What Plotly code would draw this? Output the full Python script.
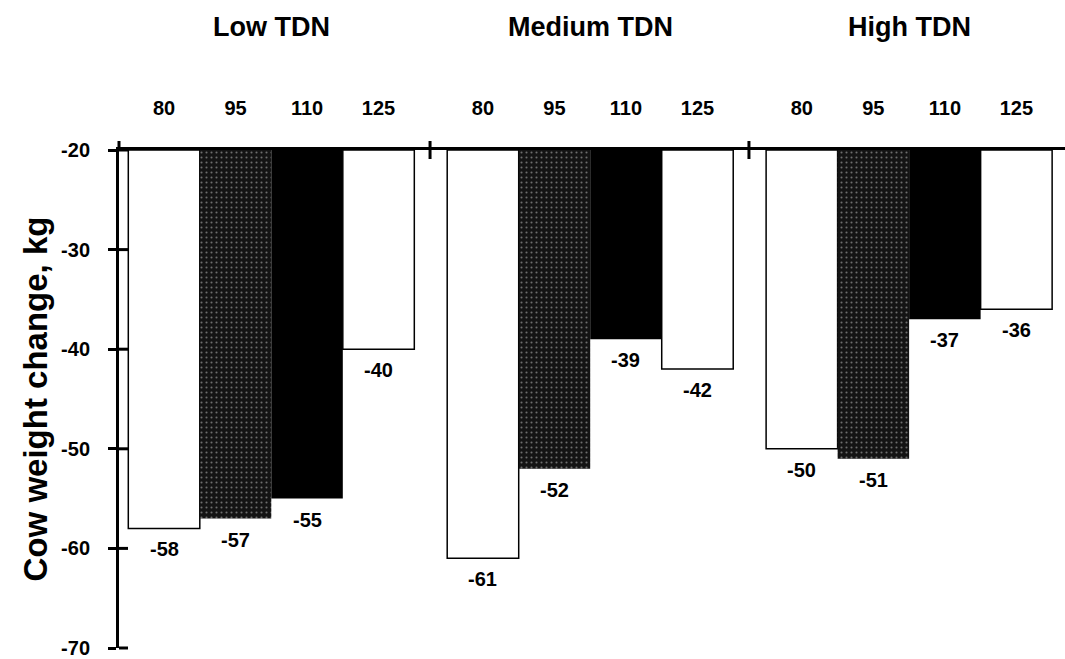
import plotly.graph_objects as go

# Cow weight change by TDN level (groups) and supplement level (bars)
groups = ["Low TDN", "Medium TDN", "High TDN"]
levels = ["80", "95", "110", "125"]
weight_change = {
    "80": [-58, -61, -50],
    "95": [-57, -52, -51],
    "110": [-55, -39, -37],
    "125": [-40, -42, -36],
}
y_ticks = [-20, -30, -40, -50, -60, -70]

baseline = -20
group_step = 4.46
first_center = 0.63
x_max = 13.23

W, H = 1065, 659
L, R, T, B = 119, 0, 150, 11
plot_w, plot_h = W - L - R, H - T - B

FONT = "Liberation Sans"
ink = "black"

styles = {
    "80": dict(color="white", line=dict(color=ink, width=1.5)),
    "95": dict(color="#151515", line=dict(color="#151515", width=0),
               pattern=dict(shape=".", fgcolor="#c8c8c8", bgcolor="#141414",
                            size=5, solidity=0.14)),
    "110": dict(color=ink, line=dict(color=ink, width=0)),
    "125": dict(color="white", line=dict(color=ink, width=1.5)),
}

def center(g, j):
    return first_center + group_step * g + j

fig = go.Figure()
tick_x, tick_text = [], []
annotations = []
for j, lv in enumerate(levels):
    xs = [center(g, j) for g in range(len(groups))]
    vals = weight_change[lv]
    tick_x += xs
    tick_text += [lv] * len(xs)
    fig.add_trace(go.Bar(
        x=xs,
        y=[v - baseline for v in vals],
        base=baseline,
        width=1.0,
        marker=styles[lv],
        showlegend=False,
        hoverinfo="skip",
    ))
    # value labels just below each bar end
    for x, v in zip(xs, vals):
        annotations.append(dict(x=x, y=v, xref="x", yref="y", text=str(v),
                                showarrow=False, yanchor="middle", yshift=-21,
                                font=dict(family=FONT, size=20, color=ink,
                                          weight="bold")))

shapes = []
# inner halves of the y-axis cross ticks
for v in y_ticks:
    yp = (v - (-70)) / 50
    shapes.append(dict(type="line", xref="paper", yref="paper",
                       x0=0, x1=9 / plot_w, y0=yp, y1=yp,
                       line=dict(color=ink, width=3)))
# y axis reaches a little above the baseline
shapes.append(dict(type="line", xref="paper", yref="paper", x0=0, x1=0,
                   y0=1, y1=1 + 9 / plot_h, line=dict(color=ink, width=3)))
# cross marks between groups on the baseline
for g in range(1, len(groups)):
    xs = (center(g, 0) - 0.74) / x_max
    shapes.append(dict(type="line", xref="paper", yref="paper",
                       x0=xs, x1=xs, y0=1 - 9 / plot_h, y1=1 + 9 / plot_h,
                       line=dict(color=ink, width=3)))

for g, name in enumerate(groups):
    cx = (center(g, 0) + center(g, len(levels) - 1)) / 2
    annotations.append(dict(x=cx, xref="x", y=(H - B - 27) / plot_h, yref="paper",
                            yanchor="middle", text=name, showarrow=False,
                            font=dict(family=FONT, size=27, color=ink, weight="bold")))

fig.update_layout(
    width=W, height=H,
    margin=dict(l=L, r=R, t=T, b=B),
    paper_bgcolor="white", plot_bgcolor="white",
    barmode="overlay",
    shapes=shapes,
    annotations=annotations,
    xaxis=dict(range=[0, x_max], side="top", showline=True, linecolor=ink,
               linewidth=3, showgrid=False, zeroline=False, ticks="",
               tickvals=tick_x, ticktext=tick_text, ticklabelstandoff=24,
               tickfont=dict(family=FONT, size=20, color=ink, weight="bold")),
    yaxis=dict(range=[-70, -20], showline=True, linecolor=ink, linewidth=3,
               showgrid=False, zeroline=False, ticks="outside", ticklen=8,
               tickwidth=3, tickcolor=ink, tickvals=y_ticks,
               ticktext=[str(v) for v in y_ticks], ticklabelstandoff=14,
               tickfont=dict(family=FONT, size=20, color=ink, weight="bold"),
               title=dict(text="Cow weight change, kg", standoff=4,
                          font=dict(family=FONT, size=33, color=ink, weight="bold"))),
)

fig.write_html("out.html")
